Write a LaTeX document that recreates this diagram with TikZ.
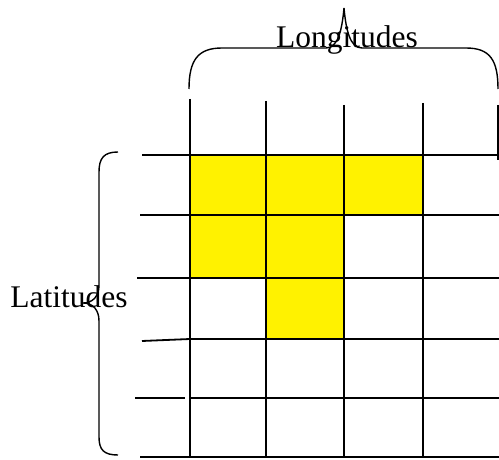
\documentclass[tikz,border=0pt]{standalone}
\usepackage{fontspec}
\setmainfont{Liberation Serif}
\begin{document}
\begin{tikzpicture}[x=1pt,y=-1pt,
  gridline/.style={line width=1.8pt,black},
  bracestyle/.style={line width=1.4pt,black},
  cellfill/.style={fill=yellow},
  lbl/.style={font=\fontsize{31.5}{36}\selectfont,inner sep=0pt,anchor=base}]
\useasboundingbox (0,0) rectangle (499,460);
% yellow cells
\fill[cellfill] (190,155) rectangle (423,215);
\fill[cellfill] (190,215) rectangle (344,278);
\fill[cellfill] (267,278) rectangle (344,339);
% vertical lines
\draw[gridline] (190,99) -- (190,457);
\draw[gridline] (266,101) -- (266,457);
\draw[gridline] (344,105) -- (344,457);
\draw[gridline] (423,103) -- (423,457);
\draw[gridline] (498,105) -- (498,160);
% horizontal lines
\draw[gridline] (142,155) -- (499,155);
\draw[gridline] (140,215) -- (499,215);
\draw[gridline] (137,278) -- (499,278);
\draw[gridline] (142,341) -- (190,339) -- (499,339);
\draw[gridline] (135,398) -- (185,398);
\draw[gridline] (190,398) -- (499,398);
\draw[gridline] (140,457) -- (499,457);
% labels
\node[lbl] (lon) at (347,48) {Longitudes};
\node[lbl] (lat) at (69,307) {Latitudes};
% top brace
\draw[bracestyle] (189,89) .. controls (189,60) and (198,48) .. (222,48)
  -- (326,48) .. controls (338,48) and (342,30) .. (344,8)
  .. controls (346,30) and (350,48) .. (362,48)
  -- (466,48) .. controls (490,48) and (498,60) .. (498,89);
% left brace
\draw[bracestyle] (118,152) .. controls (104,152) and (99,158) .. (99,172)
  -- (99,285) .. controls (99,296) and (93,303) .. (83,303)
  .. controls (93,303) and (99,310) .. (99,321)
  -- (99,437) .. controls (99,450) and (104,455) .. (118,455);
\end{tikzpicture}
\end{document}
